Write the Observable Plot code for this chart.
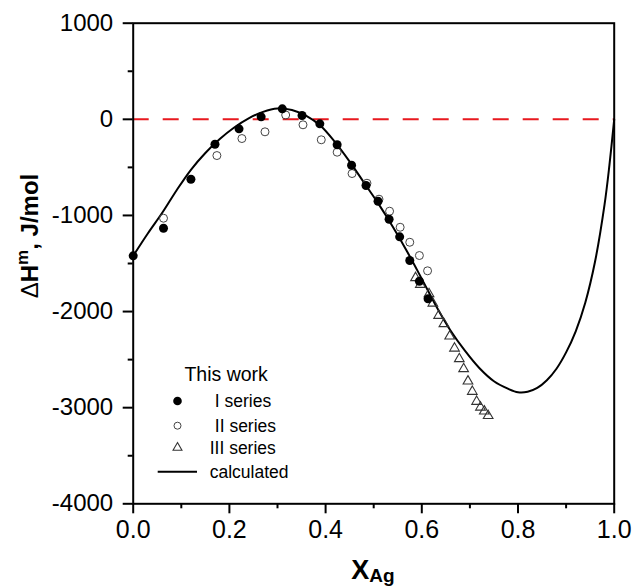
<!DOCTYPE html>
<html><head><meta charset="utf-8">
<script src="https://cdn.jsdelivr.net/npm/d3@7"></script>
<script src="https://cdn.jsdelivr.net/npm/@observablehq/plot@0.6"></script>
<style>
body{margin:0;background:#fff;}
#wrap{position:relative;width:636px;height:586px;font-family:"Liberation Sans",Arial,sans-serif;}
#wrap svg{position:absolute;left:0;top:0;}
</style></head><body><div id="wrap"></div>
<script>
// ---- data (x = mole fraction Ag, y = ΔH^m in J/mol) ----
const xI = [0.000,0.063,0.120,0.170,0.220,0.266,0.310,0.351,0.388,0.424,0.454,0.484,0.509,0.532,0.554,0.575,0.595,0.613];
const yI = [-1420,-1133,-623,-259,-99,26,109,40,-47,-265,-478,-689,-852,-1040,-1223,-1469,-1685,-1868];
const xII = [0.063,0.174,0.226,0.274,0.317,0.353,0.391,0.424,0.455,0.486,0.511,0.533,0.555,0.575,0.595,0.612];
const yII = [-1029,-377,-200,-130,45,-57,-213,-342,-564,-665,-831,-956,-1123,-1279,-1417,-1576];
const xIII = [0.587,0.597,0.615,0.623,0.635,0.646,0.658,0.668,0.678,0.687,0.696,0.705,0.714,0.722,0.730,0.738];
const yIII = [-1649,-1719,-1816,-1914,-2042,-2128,-2257,-2382,-2492,-2596,-2725,-2832,-2936,-2996,-3037,-3084];
const xCalc = [0.00,0.03,0.06,0.09,0.12,0.15,0.18,0.21,0.24,0.27,0.30,0.33,0.36,0.39,0.42,0.45,0.48,0.51,0.54,0.57,0.60,0.63,0.66,0.69,0.72,0.75,0.78,0.80,0.82,0.84,0.86,0.88,0.90,0.92,0.94,0.96,0.98,0.99,1.00];
const yCalc = [-1420,-1190,-975,-740,-525,-350,-205,-85,10,78,112,97,35,-70,-240,-440,-660,-880,-1120,-1380,-1660,-1945,-2200,-2410,-2590,-2725,-2805,-2840,-2835,-2795,-2715,-2595,-2425,-2205,-1905,-1485,-885,-480,0];
const xTicks = [0,0.2,0.4,0.6,0.8,1.0];
const xMinor = [0.1,0.3,0.5,0.7,0.9];
const yTicks = [1000,0,-1000,-2000,-3000,-4000];
const yMinor = [500,-500,-1500,-2500,-3500];
const legendTitle = "This work";
const legendLabels = ["I series","II series","III series","calculated"];
const xTitle = ["X","Ag"];
const yTitle = ["Δ","H","m",", J/mol"];

const zip = (xs, ys) => xs.map((x,i)=>({x, y: ys[i]}));
const dI = zip(xI,yI), dII = zip(xII,yII), dIII = zip(xIII,yIII), dCalc = zip(xCalc,yCalc);

const W = 636, H = 586;
const FONT = '"Liberation Sans", Arial, sans-serif';

const plot = Plot.plot({
  width: W, height: H,
  marginLeft: 132.7, marginRight: 22.3, marginTop: 22.7, marginBottom: 82.7,
  x: {domain: [0,1]},
  y: {domain: [-4000,1000]},
  style: {fontFamily: FONT, color: "#000", background: "#fff", overflow: "visible"},
  marks: [
    Plot.axisX(xMinor, {tickSize: 5, strokeWidth: 2, fill: "none", label: null}),
    Plot.axisX(xTicks, {tickSize: 10, tickPadding: 6, strokeWidth: 2, fontSize: 25, tickFormat: d => d.toFixed(1), label: null}),
    Plot.axisY(yMinor, {tickSize: 5, strokeWidth: 2, fill: "none", label: null}),
    Plot.axisY(yTicks, {tickSize: 10, tickPadding: 10, strokeWidth: 2, fontSize: 24, tickFormat: d => String(d), label: null}),
    Plot.ruleY([0], {stroke: "#e8191f", strokeWidth: 2, strokeDasharray: "16,14"}),
    Plot.line(dCalc, {x: "x", y: "y", curve: "catmull-rom", stroke: "#000", strokeWidth: 2}),
    Plot.dot(dII, {x: "x", y: "y", r: 4, fill: "none", stroke: "#444", strokeWidth: 1}),
    Plot.dot(dIII, {x: "x", y: "y", r: 3.6, symbol: "triangle", fill: "none", stroke: "#333", strokeWidth: 1.1}),
    Plot.dot(dI, {x: "x", y: "y", r: 4.5, fill: "#000", stroke: "none"}),
    Plot.frame({stroke: "#000", strokeWidth: 2})
  ]
});
document.getElementById("wrap").appendChild(plot);

// ---- overlay: axis titles and legend ----
const ov = d3.create("svg").attr("width", W).attr("height", H)
  .style("font-family", FONT).style("overflow", "visible");

const yt = ov.append("text").attr("transform", "translate(38,236) rotate(-90)")
  .attr("text-anchor", "middle").attr("font-size", 24).attr("font-weight", "bold").attr("fill", "#000");
yt.append("tspan").attr("font-weight", "normal").text(yTitle[0]);
yt.append("tspan").text(yTitle[1]);
yt.append("tspan").attr("font-size", 17).attr("dy", -10).text(yTitle[2]);
yt.append("tspan").attr("dy", 10).text(yTitle[3]);

const xt = ov.append("text").attr("x", 373).attr("y", 579)
  .attr("text-anchor", "middle").attr("font-weight", "bold").attr("fill", "#000");
xt.append("tspan").attr("font-size", 27).text(xTitle[0]);
xt.append("tspan").attr("font-size", 19).attr("dy", 3).text(xTitle[1]);

// legend
ov.append("text").attr("x", 184.4).attr("y", 381).attr("font-size", 19.5).attr("fill", "#000").text(legendTitle);
const rowY = [401, 425.7, 447.7, 471.7];
const textX = [214.8, 214.8, 209.7, 209.7];
const symX = 177.5;
legendLabels.forEach((lab, i) => {
  ov.append("text").attr("x", textX[i]).attr("y", rowY[i] + 6.3).attr("font-size", 17.5).attr("fill", "#000").text(lab);
});
ov.append("circle").attr("cx", symX).attr("cy", rowY[0]).attr("r", 4.3).attr("fill", "#000");
ov.append("circle").attr("cx", symX).attr("cy", rowY[1]).attr("r", 3.5).attr("fill", "none").attr("stroke", "#444").attr("stroke-width", 1);
ov.append("path").attr("transform", `translate(${symX},${rowY[2]})`)
  .attr("d", d3.symbol(d3.symbolTriangle, 3.3 * 3.3 * Math.PI)())
  .attr("fill", "none").attr("stroke", "#333").attr("stroke-width", 1.1);
ov.append("line").attr("x1", 157.7).attr("x2", 197).attr("y1", rowY[3]).attr("y2", rowY[3])
  .attr("stroke", "#000").attr("stroke-width", 2);

document.getElementById("wrap").appendChild(ov.node());
</script>
</body></html>
